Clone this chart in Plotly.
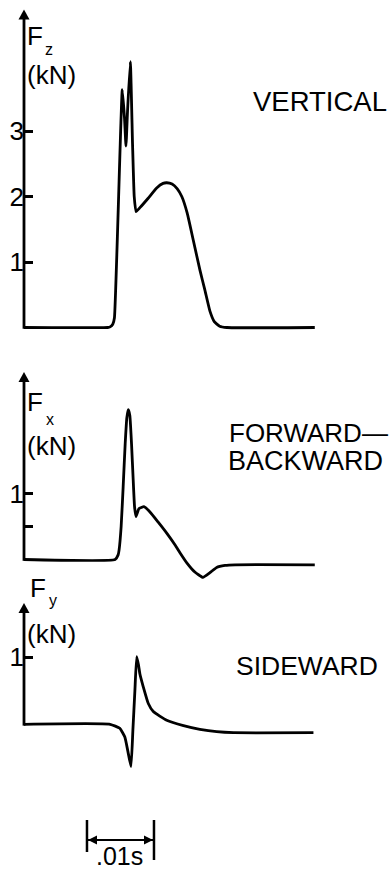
import plotly.graph_objects as go

W, H = 391, 869

# ---------------- data (time in ms, force in kN) ----------------
t_z = [0, 12.5, 12.85, 13.25, 13.5, 14.67, 15.0, 15.22, 15.45, 15.87, 16.2, 16.45, 16.72,
       17.3, 18.5, 19.8, 20.75, 21.3, 22.1, 22.85, 23.55, 24.35, 25.25, 26.25, 27.0, 27.75,
       28.4, 29.2, 30.3, 43.4]
f_z = [0, 0, 0.01, 0.05, 0.15, 3.63, 3.2, 2.77, 3.3, 4.06, 2.8, 2.0, 1.77,
       1.83, 1.97, 2.13, 2.2, 2.21, 2.19, 2.12, 2.0, 1.75, 1.34, 0.88, 0.57, 0.25,
       0.09, 0.02, 0.0, 0.0]

t_x = [0, 13.6, 14.05, 14.2, 14.5, 14.8, 15.1, 15.35, 15.57, 15.8, 16.05, 16.3, 16.5,
       16.72, 17.15, 17.9, 18.8, 20.0, 21.3, 22.55, 23.3, 24.3, 25.5, 26.7, 27.75, 28.75,
       30.0, 31.5, 43.4]
f_x = [0, 0, 0.07, 0.15, 0.5, 1.1, 1.75, 2.15, 2.27, 2.18, 1.75, 1.2, 0.8,
       0.65, 0.77, 0.80, 0.72, 0.57, 0.40, 0.22, 0.10, -0.05, -0.19, -0.27, -0.2, -0.12,
       -0.09, -0.08, -0.08]

t_y = [0, 12.85, 14.3, 15.05, 15.5, 15.97, 16.25, 16.55, 16.82, 17.1, 17.3, 17.8, 18.55,
       19.3, 21.3, 23.8, 26.25, 28.75, 31.25, 43.2]
f_y = [0, 0, -0.06, -0.19, -0.4, -0.63, -0.09, 0.5, 1.01, 0.88, 0.75, 0.56, 0.31,
       0.19, 0.06, -0.02, -0.075, -0.11, -0.125, -0.125]

tickvals_z = [1, 2, 3]
ticktext_z = ["1", "2", "3"]
tickvals_x = [0.5, 1]
ticktext_x = ["", "1"]
tickvals_y = [1]
ticktext_y = ["1"]

scale_bar_start_ms = 9.4
scale_bar_len_ms = 10.0   # .01 s

# ---------------- layout geometry (pixels) ----------------
AX_PX = 24.0        # x pixel of the force axes (t = 0)
MS_PX = 6.7         # pixels per ms
panels = [
    dict(zero=327.5, scale=65.5, tip=9.5),
    dict(zero=559.5, scale=66.0, tip=372.0),
    dict(zero=724.3, scale=67.0, tip=603.0),
]
FONT = "Liberation Sans"
LW = 2.8


def yr(p):
    return [(p["zero"] - H) / p["scale"], p["zero"] / p["scale"]]


def tipval(p):
    return (p["zero"] - p["tip"]) / p["scale"]


def PX(x):
    return x / W


def PY(y):
    return 1 - y / H


fig = go.Figure()
for t, f, ya in [(t_z, f_z, "y"), (t_x, f_x, "y2"), (t_y, f_y, "y3")]:
    fig.add_trace(go.Scatter(x=t, y=f, yaxis=ya, mode="lines",
                             line=dict(color="black", width=LW, shape="spline", smoothing=0.4),
                             hoverinfo="skip", showlegend=False))

common = dict(anchor="free", position=AX_PX / W, tickmode="array", ticks="inside",
              ticklen=8, tickwidth=2.5, tickcolor="black", showgrid=False, zeroline=False,
              showline=False, automargin=False,
              tickfont=dict(family=FONT, size=26, color="black"))

fig.update_layout(
    width=W, height=H, margin=dict(l=0, r=0, t=0, b=0),
    paper_bgcolor="white", plot_bgcolor="white", template="none",
    xaxis=dict(range=[-AX_PX / MS_PX, (W - AX_PX) / MS_PX], visible=False, domain=[0, 1]),
    yaxis=dict(range=yr(panels[0]), tickvals=tickvals_z, ticktext=ticktext_z, **common),
    yaxis2=dict(range=yr(panels[1]), tickvals=tickvals_x, ticktext=ticktext_x,
                overlaying="y", **common),
    yaxis3=dict(range=yr(panels[2]), tickvals=tickvals_y, ticktext=ticktext_y,
                overlaying="y", **common),
)

shapes = []
for p, ya in zip(panels, ["y", "y2", "y3"]):
    tv = tipval(p)
    shapes.append(dict(type="line", xref="x", yref=ya, x0=0, x1=0, y0=-0.02, y1=tv - 6 / p["scale"],
                       line=dict(color="black", width=LW)))
    shapes.append(dict(type="path", xref="x", yref=ya, xsizemode="pixel", ysizemode="pixel",
                       xanchor=0, yanchor=tv, path="M-5.5,-10 L5.5,-10 L0,0 Z",
                       fillcolor="black", line=dict(width=0)))

# scale bar
xs0 = scale_bar_start_ms
xs1 = scale_bar_start_ms + scale_bar_len_ms
shapes.append(dict(type="line", xref="x", yref="paper", x0=xs0, x1=xs0, y0=PY(820), y1=PY(852),
                   line=dict(color="black", width=2.5)))
shapes.append(dict(type="line", xref="x", yref="paper", x0=xs1, x1=xs1, y0=PY(820), y1=PY(860),
                   line=dict(color="black", width=2.5)))
shapes.append(dict(type="line", xref="x", yref="paper", x0=xs0, x1=xs1, y0=PY(840), y1=PY(840),
                   line=dict(color="black", width=2.2)))
shapes.append(dict(type="path", xref="x", yref="paper", xsizemode="pixel", ysizemode="pixel",
                   xanchor=xs0, yanchor=PY(840), path="M1,0 L10,4.5 L10,-4.5 Z",
                   fillcolor="black", line=dict(width=0)))
shapes.append(dict(type="path", xref="x", yref="paper", xsizemode="pixel", ysizemode="pixel",
                   xanchor=xs1, yanchor=PY(840), path="M-1,0 L-10,4.5 L-10,-4.5 Z",
                   fillcolor="black", line=dict(width=0)))
fig.update_layout(shapes=shapes)

labels = [
    ("F", 25, 36, 26, "left"), ("z", 43, 50, 16, "left"), ("(kN)", 25, 75, 26, "left"),
    ("VERTICAL", 251, 101, 27.5, "left"),
    ("F", 25, 401.5, 26, "left"), ("x", 43.5, 419.5, 16, "left"), ("(kN)", 25, 446, 26, "left"),
    ("FORWARD\u2014", 227, 432.5, 26, "left"), ("BACKWARD", 226, 461, 27, "left"),
    ("F", 28, 587.5, 26, "left"), ("y", 46.5, 600, 16, "left"), ("(kN)", 25, 634, 26, "left"),
    ("SIDEWARD", 233.5, 666, 26.5, "left"),
    (".01s", 119.5, 856, 25, "center"),
]
anns = []
for txt, x, y, s, xa in labels:
    anns.append(dict(text=txt, xref="paper", yref="paper", x=PX(x), y=PY(y), xanchor=xa,
                     yanchor="middle", showarrow=False,
                     font=dict(family=FONT, size=s, color="black")))
fig.update_layout(annotations=anns)

fig.write_html("out.html", config={"displayModeBar": False},
               post_script="document.body.style.margin='0';document.body.style.overflow='hidden';")
